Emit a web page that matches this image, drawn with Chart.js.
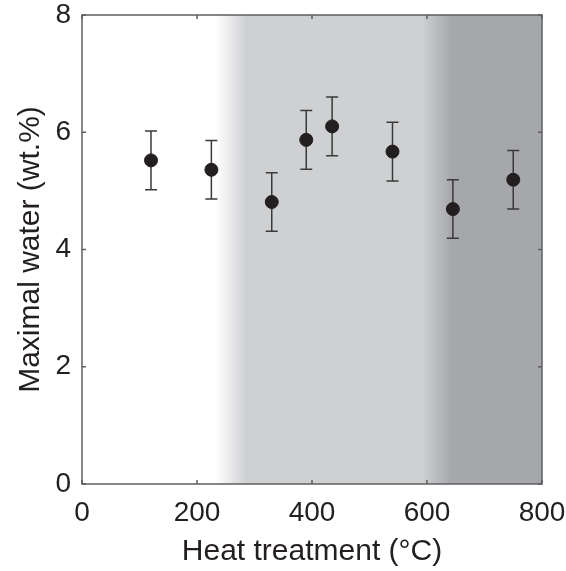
<!DOCTYPE html>
<html>
<head>
<meta charset="utf-8">
<script src="https://cdn.jsdelivr.net/npm/chart.js@4.4.0/dist/chart.umd.min.js"></script>
<style>
  html,body{margin:0;padding:0;background:#fff}
  #box{width:566px;height:571px}
</style>
</head>
<body>
<div id="box"><canvas id="water_canvas"></canvas></div>
<script>
// values
const temps = [120, 225, 330, 390, 435, 540, 645, 750];
const water = [5.52, 5.36, 4.81, 5.87, 6.10, 5.67, 4.69, 5.19];
const errs  = [0.5, 0.5, 0.5, 0.5, 0.5, 0.5, 0.5, 0.5];
const xTicks = [0, 200, 400, 600, 800];
const yTicks = [0, 2, 4, 6, 8];
// shaded zones (°C): white -> light grey ramp, light -> dark grey ramp
const shadeEdges = [233, 285, 591, 643];

const ink = '#231f20';
const tickFont = {family: '"Liberation Sans", Arial, sans-serif', size: 28};
const titleFont = {family: '"Liberation Sans", Arial, sans-serif', size: 30};

const backdrop = {
  id: 'backdrop',
  beforeDatasetsDraw(chart) {
    const {ctx, chartArea: a, scales: {x, y}} = chart;
    const w = a.right - a.left;
    const f = v => (x.getPixelForValue(v) - a.left) / w;
    const g = ctx.createLinearGradient(a.left, 0, a.right, 0);
    g.addColorStop(0, '#ffffff');
    g.addColorStop(f(shadeEdges[0]), '#ffffff');
    g.addColorStop(f(shadeEdges[1]), '#cfd0d2');
    g.addColorStop(f(shadeEdges[2]), '#cfd0d2');
    g.addColorStop(f(shadeEdges[3]), '#a6a7aa');
    g.addColorStop(1, '#a6a7aa');
    ctx.save();
    ctx.fillStyle = g;
    ctx.fillRect(a.left, a.top, w, a.bottom - a.top);

    // error bars
    ctx.strokeStyle = '#3a3a3a';
    ctx.lineWidth = 1.5;
    for (let i = 0; i < temps.length; i++) {
      const px = x.getPixelForValue(temps[i]);
      const y1 = y.getPixelForValue(water[i] + errs[i]);
      const y2 = y.getPixelForValue(water[i] - errs[i]);
      ctx.beginPath();
      ctx.moveTo(px, y1); ctx.lineTo(px, y2);
      ctx.moveTo(px - 6, y1); ctx.lineTo(px + 6, y1);
      ctx.moveTo(px - 6, y2); ctx.lineTo(px + 6, y2);
      ctx.stroke();
    }
    ctx.restore();
  },
  afterDraw(chart) {
    const {ctx, chartArea: a, scales: {x, y}} = chart;
    ctx.save();
    ctx.strokeStyle = '#5e5f62';
    ctx.lineWidth = 1.5;
    ctx.strokeRect(a.left, a.top, a.right - a.left, a.bottom - a.top);
    ctx.beginPath();
    xTicks.forEach(t => {
      const px = x.getPixelForValue(t);
      ctx.moveTo(px, a.bottom); ctx.lineTo(px, a.bottom - 4);
      ctx.moveTo(px, a.top); ctx.lineTo(px, a.top + 4);
    });
    yTicks.forEach(t => {
      const py = y.getPixelForValue(t);
      ctx.moveTo(a.left, py); ctx.lineTo(a.left + 4, py);
      ctx.moveTo(a.right, py); ctx.lineTo(a.right - 4, py);
    });
    ctx.stroke();
    ctx.restore();
  }
};

new Chart(document.getElementById('water_canvas'), {
  type: 'scatter',
  data: {
    datasets: [{
      data: temps.map((t, i) => ({x: t, y: water[i]})),
      backgroundColor: ink,
      borderColor: ink,
      pointRadius: 6.5,
      pointHoverRadius: 6.5
    }]
  },
  options: {
    responsive: true,
    maintainAspectRatio: false,
    animation: false,
    events: [],
    layout: {padding: {top: 15, right: 24, bottom: 0, left: 0}},
    plugins: {legend: {display: false}, tooltip: {enabled: false}},
    scales: {
      x: {
        type: 'linear', min: 0, max: 800,
        afterBuildTicks: s => { s.ticks = xTicks.map(v => ({value: v})); },
        afterFit: s => { s.height = 87; s.paddingLeft = 0; s.paddingRight = 0; },
        grid: {display: false, drawTicks: false},
        border: {display: false},
        ticks: {color: ink, font: tickFont, padding: 12, maxRotation: 0},
        title: {display: true, text: 'Heat treatment (°C)', color: ink, font: titleFont, padding: {top: 0, bottom: 1}}
      },
      y: {
        type: 'linear', min: 0, max: 8,
        afterBuildTicks: s => { s.ticks = yTicks.map(v => ({value: v})); },
        afterFit: s => { s.width = 82; s.paddingTop = 0; s.paddingBottom = 0; },
        grid: {display: false, drawTicks: false},
        border: {display: false},
        ticks: {color: ink, font: tickFont, padding: 11},
        title: {display: true, text: 'Maximal water (wt.%)', color: ink, font: titleFont, padding: {top: 13, bottom: 0}}
      }
    }
  },
  plugins: [backdrop]
});
</script>
</body>
</html>
